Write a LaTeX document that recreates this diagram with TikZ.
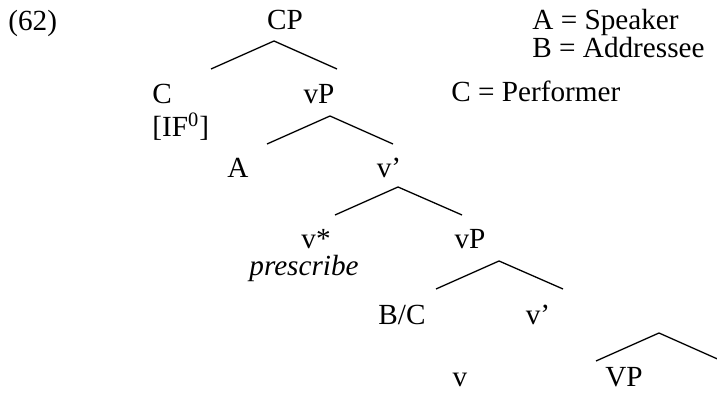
\documentclass[tikz,border=0pt]{standalone}
\usepackage{fontspec}
\setmainfont{Liberation Serif}
\usepackage{tikz}
\newcommand{\treefont}{\fontsize{14.6}{17}\selectfont}

\begin{document}
\begin{tikzpicture}[x=0.5pt, y=-0.5pt,
  every node/.style={inner sep=0pt, font=\treefont},
  cat/.style={anchor=base},
  note/.style={anchor=base west},
  branch/.style={line width=0.65pt}]
\useasboundingbox (0,0) rectangle (717,399);
\node[note] (exno) at (8,31) {(62)};
% legend
\node[note] (spk) at (532,30) {A = Speaker};
\node[note] (adr) at (532,57.5) {B = Addressee};
\node[note] (prf) at (451,102) {C = Performer};
% tree labels
\node[cat] (cp) at (285,30) {CP};
\node[cat] (c) at (162,104) {C};
\node[note] (if) at (152,137) {[IF\textsuperscript{0}]};
\node[cat] (vp1) at (319,104) {vP};
\node[cat] (a) at (238,178) {A};
\node[cat] (vbar1) at (389,178) {v’};
\node[cat] (vstar) at (316,249) {v*};
\node[cat] (presc) at (304,276) {\itshape prescribe};
\node[cat] (vp2) at (470,249) {vP};
\node[cat] (bc) at (402,325) {B/C};
\node[cat] (vbar2) at (538,325) {v’};
\node[cat] (v) at (460,387) {v};
\node[cat] (bigvp) at (624,387) {VP};
% branches
\coordinate (b1) at (274,41);
\coordinate (b2) at (330,116);
\coordinate (b3) at (398,187);
\coordinate (b4) at (499,261);
\coordinate (b5) at (659,333);
\draw[branch] ([shift={(-63,28)}]b1) -- (b1) -- ([shift={(63,28)}]b1);
\draw[branch] ([shift={(-63,28)}]b2) -- (b2) -- ([shift={(63,28)}]b2);
\draw[branch] ([shift={(-63,28)}]b3) -- (b3) -- ([shift={(64,28)}]b3);
\draw[branch] ([shift={(-63,28)}]b4) -- (b4) -- ([shift={(64,28)}]b4);
\draw[branch] ([shift={(-63,28)}]b5) -- (b5) -- ([shift={(63,28)}]b5);
\end{tikzpicture}
\end{document}
